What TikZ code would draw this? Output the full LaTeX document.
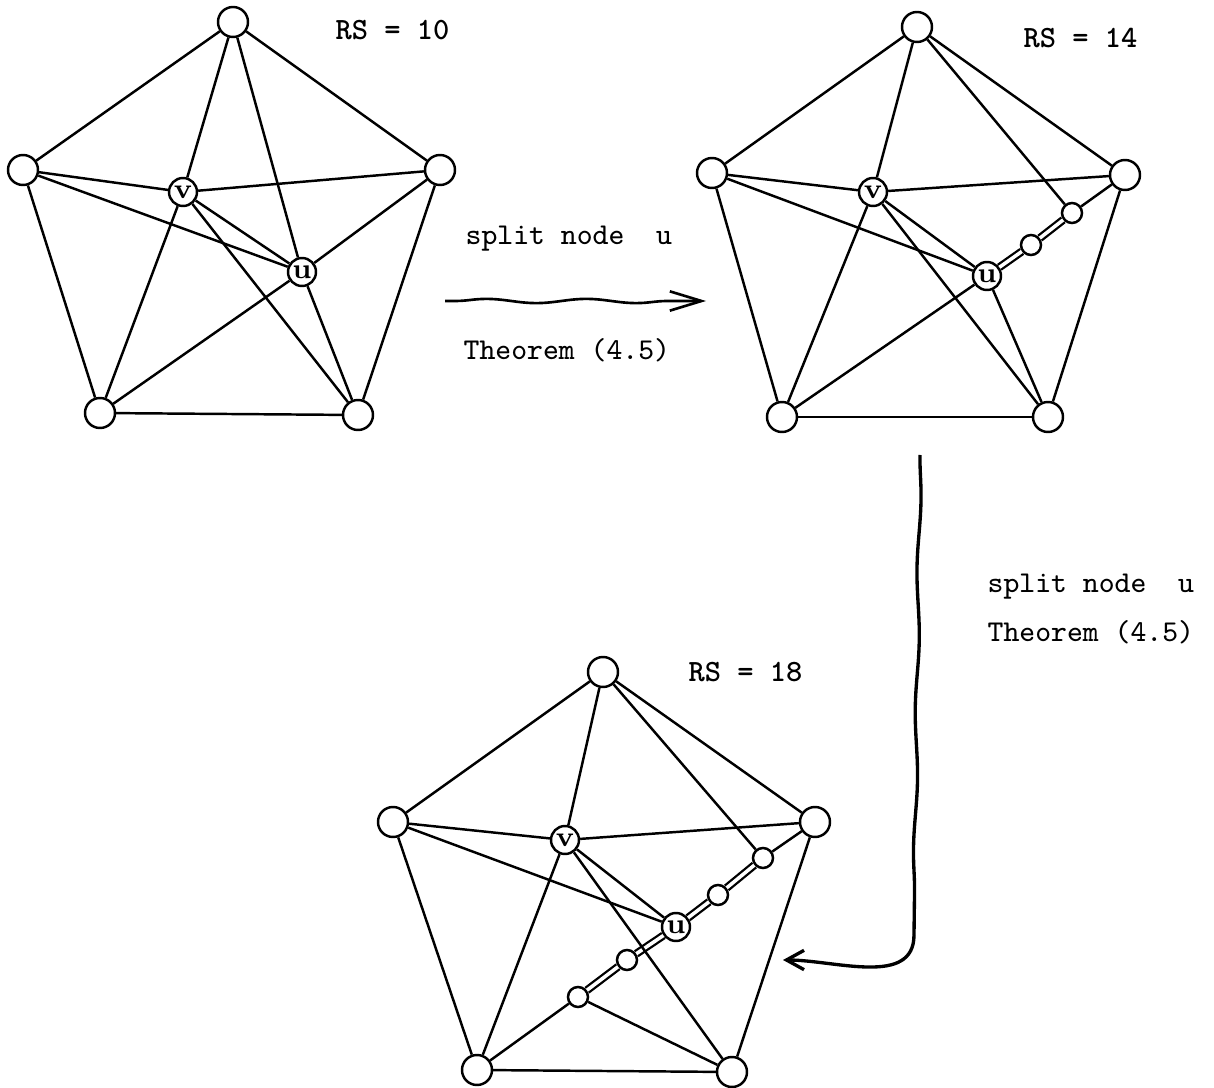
\documentclass[tikz,border=0pt]{standalone}
\usepackage{tikz}
\usetikzlibrary{arrows.meta, decorations.pathmorphing}

\begin{document}
\begin{tikzpicture}[x=0.01cm, y=-0.01cm,
  vertex/.style={draw, circle, fill=white, line width=0.7pt, inner sep=0pt, minimum size=0.3cm},
  lettered/.style={vertex, minimum size=0.28cm, font=\fontsize{8}{8}\selectfont\bfseries},
  splitpt/.style={vertex, minimum size=0.2cm},
  link/.style={line width=0.7pt},
  twin/.style={double, line width=0.65pt, double distance=1pt},
  rs/.style={anchor=base west, inner sep=0pt, font=\fontsize{8.8}{10}\selectfont\ttfamily\bfseries},
  note/.style={anchor=base west, inner sep=0pt, font=\fontsize{8.6}{10}\selectfont\ttfamily},
  squiggle/.style={decorate, decoration={snake, amplitude=0.6pt, segment length=1cm, pre length=0.1cm, post length=0.35cm}},
  arrow/.style={-{Straight Barb[length=9pt, width=5.5pt]}}]
\useasboundingbox (0,0) rectangle (1214,1088);

% RS = 10
\node[vertex] (T1) at (233,22) {};
\node[vertex] (L1) at (23,170) {};
\node[vertex] (R1) at (440,170) {};
\node[vertex] (BL1) at (100,413) {};
\node[vertex] (BR1) at (358,415) {};
\node[lettered] (v1) at (183,192) {v};
\node[lettered] (u1) at (302,272) {u};
\node[rs] (rs1) at (335,40) {RS = 10};

% RS = 14
\node[vertex] (T2) at (917,27) {};
\node[vertex] (L2) at (712,173) {};
\node[vertex] (R2) at (1125,175) {};
\node[vertex] (BL2) at (782,417) {};
\node[vertex] (BR2) at (1048,417) {};
\node[lettered] (v2) at (873,192) {v};
\node[lettered] (u2) at (987,276) {u};
\node[splitpt] (a2) at (1031,245) {};
\node[splitpt] (b2) at (1072,213) {};
\node[rs] (rs2) at (1023,48) {RS = 14};

% RS = 18
\node[vertex] (T3) at (603,672) {};
\node[vertex] (L3) at (393,822) {};
\node[vertex] (R3) at (815,822) {};
\node[vertex] (BL3) at (477,1070) {};
\node[vertex] (BR3) at (732,1072) {};
\node[lettered] (v3) at (565,840) {v};
\node[lettered] (u3) at (676,927) {u};
\node[splitpt] (a3) at (718,895) {};
\node[splitpt] (b3) at (763,858) {};
\node[splitpt] (c3) at (627,960) {};
\node[splitpt] (d3) at (578,997) {};
\node[rs] (rs3) at (688,682) {RS = 18};

% split chains
\draw[twin] (u2) -- (a2);
\draw[twin] (a2) -- (b2);
\draw[twin] (u3) -- (a3);
\draw[twin] (a3) -- (b3);
\draw[twin] (u3) -- (c3);
\draw[twin] (c3) -- (d3);

% edges shared by all three
\foreach \g in {1,2,3}
  \foreach \a/\b in {T/L, L/BL, BL/BR, BR/R, R/T, T/v, L/v, v/R, L/u, v/u, v/BL, v/BR}
    \draw[link] (\a\g) -- (\b\g);

\foreach \a/\b in {T1/u1, u1/R1, u1/BL1, u1/BR1,
                   T2/b2, b2/R2, u2/BL2, u2/BR2,
                   T3/b3, b3/R3, d3/BL3, d3/BR3}
  \draw[link] (\a) -- (\b);

% first step
\coordinate (hstart) at (445,301);
\coordinate (htip) at (706,301);
\draw[line width=0.75pt, squiggle, arrow] (hstart) -- (htip);
\node[note] (split1) at (465,245) {split node\ \ u};
\node[note] (thm1) at (463,360) {Theorem (4.5)};

% second step
\coordinate (vtop) at (920,455);
\coordinate (vturn) at (914,935);
\coordinate (vtip) at (783,960);
\draw[line width=0.95pt, decorate, decoration={snake, amplitude=0.45pt, segment length=1.4cm, post length=0.2cm}] (vtop) -- (vturn);
\draw[line width=0.95pt, -{Straight Barb[length=5pt, width=5.5pt]}] (vturn) to[out=270, in=0] (vtip);
\node[note] (split2) at (987,593) {split node\ \ u};
\node[note] (thm2) at (987,642) {Theorem (4.5)};
\end{tikzpicture}
\end{document}
